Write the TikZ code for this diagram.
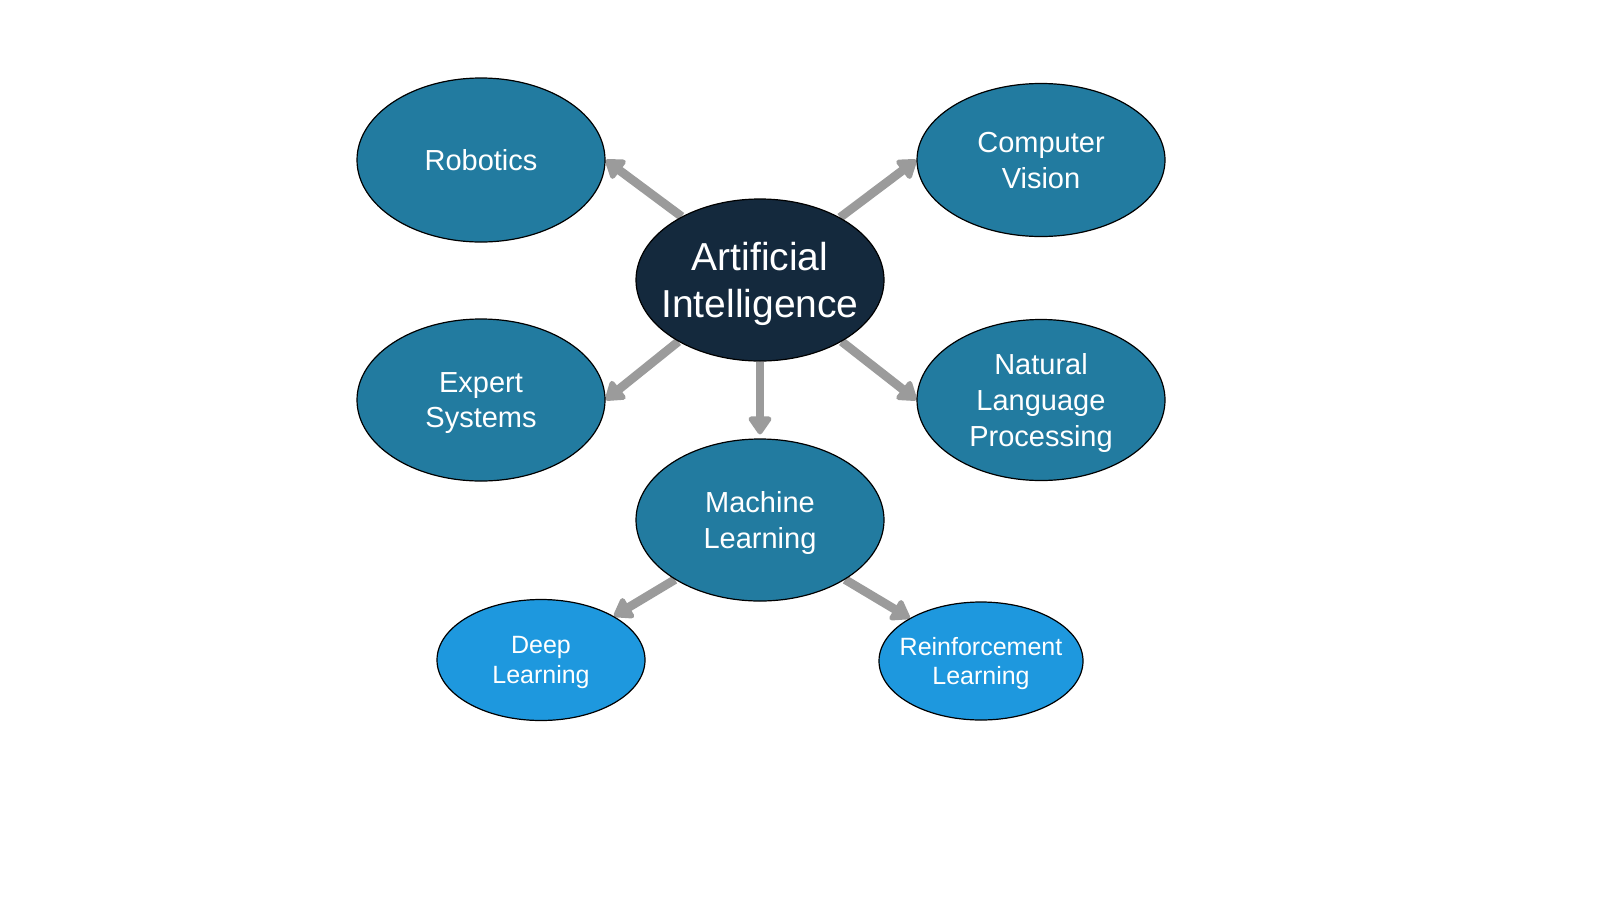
\documentclass[tikz,border=0pt]{standalone}
\usepackage{fontspec}
\setmainfont{Liberation Sans}
\usetikzlibrary{shapes.geometric,arrows.meta,backgrounds}

\definecolor{topicteal}{RGB}{34,123,160}
\definecolor{corenavy}{RGB}{20,41,61}
\definecolor{subblue}{RGB}{30,152,222}
\definecolor{arrowgray}{RGB}{155,155,155}

\begin{document}
\begin{tikzpicture}[x=0.5pt,y=-0.5pt,
  topic/.style={ellipse,draw=black,line width=0.6pt,fill=topicteal,text=white,inner sep=0pt,
    minimum width=124pt,minimum height=81pt,align=center,text depth=0pt,
    font=\fontsize{14.5}{17.9}\selectfont},
  core/.style={topic,fill=corenavy,inner xsep=-6.5pt,font=\fontsize{19.5}{23.5}\selectfont},
  subtopic/.style={topic,fill=subblue,minimum width=104pt,minimum height=60pt,
    font=\fontsize{12.5}{14.8}\selectfont},
  link/.style={draw=arrowgray,line width=4.4pt,
    -{Triangle[length=10pt,width=13pt,round]}}]
\useasboundingbox (0,0) rectangle (1600,900);

%Nodes
\node[core] (ai) at (760,280) {Artificial\\Intelligence};
\node[topic,minimum height=82pt] (rob) at (481,160) {Robotics};
\node[topic,minimum height=76.5pt] (cv) at (1041,160) {Computer\\Vision};
\node[topic] (es) at (481,400) {Expert\\Systems};
\node[topic,minimum height=80.5pt] (nlp) at (1041,400) {Natural\\Language\\Processing};
\node[topic] (ml) at (760,520) {Machine\\Learning};
\node[subtopic,minimum height=60.5pt] (dl) at (541,660) {Deep\\Learning};
\node[subtopic,inner xsep=-4.8pt,minimum width=102pt,minimum height=59pt] (rl) at (981,661) {Reinforcement\\Learning};

%Arrows
\begin{scope}[on background layer]
\draw[link] (ai.141) -- (rob.east);
\draw[link] (ai.38) -- (cv.west);
\draw[link] (ai.217) -- (es.east);
\draw[link] (ai.-37) -- (nlp.west);
\draw[link,shorten >=2pt] (ai.south) -- (ml.north);
\draw[link] (ml.215) -- (dl.31);
\draw[link] (ml.-35) -- (rl.149);
\end{scope}

\end{tikzpicture}
\end{document}
